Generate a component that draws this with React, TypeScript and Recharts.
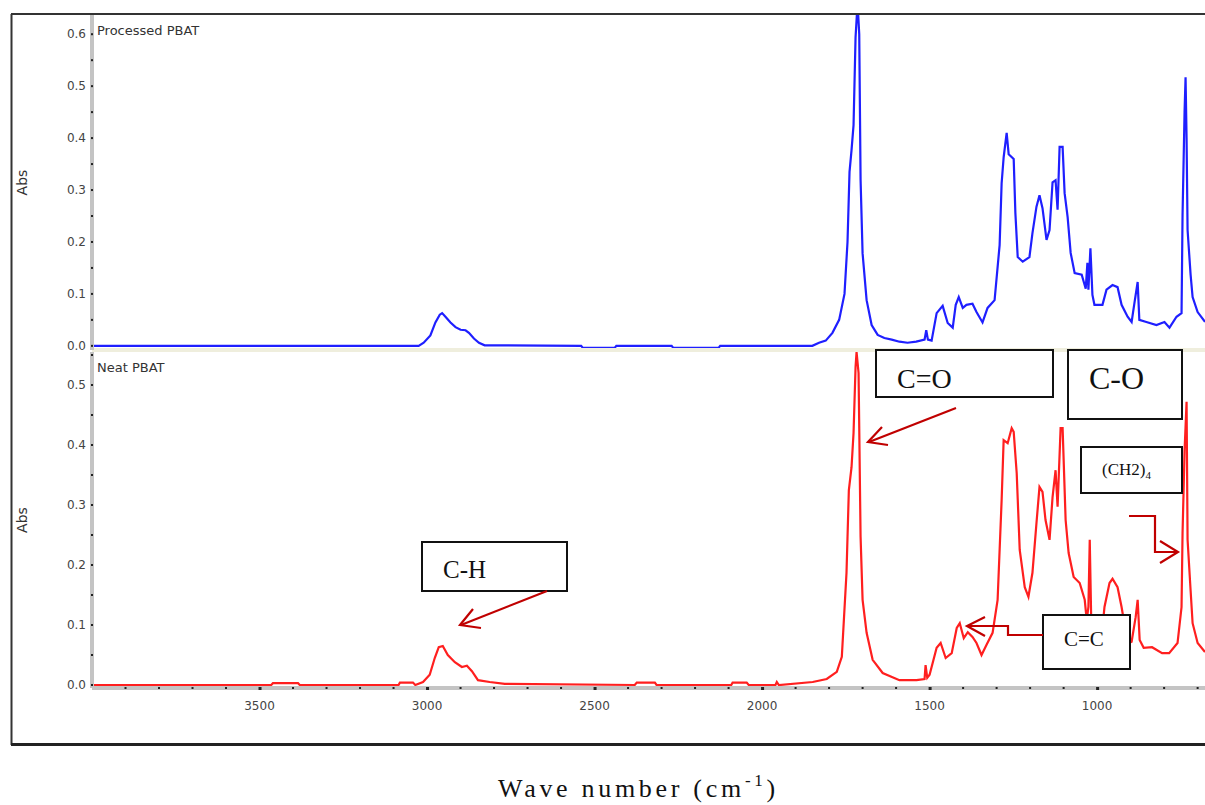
import { LineChart, Line, XAxis, YAxis } from 'recharts'

// Processed PBAT (top, blue) - wavenumber (cm-1) and absorbance
const processedWn = [
  4000, 3300, 3025, 3010, 2990, 2975, 2962, 2955, 2945, 2930, 2915, 2900, 2885, 2875, 2860, 2845, 2828,
  2540, 2535, 2440, 2435, 2270, 2265, 2130, 2125, 1850, 1830, 1810, 1790, 1770, 1754, 1745, 1739, 1733,
  1727, 1721, 1715, 1710, 1706, 1700, 1688, 1673, 1655, 1635, 1613, 1590, 1566, 1540, 1515, 1510, 1505,
  1494, 1479, 1461, 1446, 1431, 1422, 1413, 1401, 1390, 1372, 1360, 1342, 1327, 1306, 1291, 1285, 1279,
  1270, 1264, 1249, 1244, 1237, 1222, 1202, 1193, 1181, 1172, 1163, 1151, 1142, 1133, 1124, 1118, 1112,
  1103, 1097, 1088, 1079, 1067, 1046, 1034, 1029, 1026, 1020, 1014, 1008, 984, 972, 954, 939, 927, 909,
  897, 888, 879, 874, 853, 823, 799, 784, 763, 748, 745, 739, 736, 733, 730, 721, 715, 700, 678,
]
const processedAbs = [
  0, 0, 0, 0.006, 0.02, 0.045, 0.06, 0.063, 0.056, 0.045, 0.036, 0.031, 0.03, 0.025, 0.014, 0.006, 0.001,
  0, -0.004, -0.004, 0, 0, -0.004, -0.004, 0, 0, 0.006, 0.01, 0.025, 0.05, 0.1, 0.2, 0.335, 0.377,
  0.425, 0.594, 0.66, 0.6, 0.32, 0.178, 0.088, 0.04, 0.021, 0.015, 0.012, 0.008, 0.006, 0.008, 0.012, 0.03, 0.012,
  0.01, 0.063, 0.077, 0.044, 0.035, 0.079, 0.094, 0.073, 0.079, 0.081, 0.065, 0.045, 0.073, 0.088, 0.194, 0.313, 0.363,
  0.41, 0.369, 0.36, 0.256, 0.171, 0.162, 0.171, 0.217, 0.268, 0.29, 0.265, 0.204, 0.223, 0.315, 0.319, 0.262, 0.383,
  0.383, 0.294, 0.248, 0.179, 0.14, 0.137, 0.11, 0.16, 0.108, 0.188, 0.098, 0.079, 0.079, 0.108, 0.117, 0.113, 0.079, 0.056,
  0.046, 0.085, 0.123, 0.05, 0.046, 0.04, 0.046, 0.035, 0.056, 0.063, 0.252, 0.45, 0.517, 0.4, 0.223, 0.137, 0.094, 0.065, 0.046,
]

// Neat PBAT (bottom, red)
const neatWn = [
  4000, 3465, 3460, 3385, 3380, 3085, 3081, 3042, 3035, 3012, 2992, 2977, 2965, 2953, 2938, 2917, 2896,
  2881, 2866, 2848, 2813, 2768, 2380, 2374, 2320, 2315, 2092, 2088, 2046, 2040, 1960, 1956, 1950, 1849,
  1807, 1777, 1762, 1748, 1741, 1733, 1727, 1721, 1718, 1712, 1706, 1700, 1688, 1670, 1640, 1590, 1539,
  1515, 1512, 1507, 1500, 1479, 1467, 1452, 1434, 1419, 1410, 1398, 1386, 1372, 1360, 1345, 1330, 1312,
  1297, 1285, 1279, 1267, 1255, 1249, 1240, 1231, 1216, 1205, 1193, 1181, 1172, 1163, 1154, 1142, 1133,
  1124, 1118, 1109, 1103, 1094, 1085, 1070, 1052, 1037, 1031, 1026, 1022, 1017, 1008, 995, 985, 978, 963,
  954, 939, 927, 915, 905, 897, 885, 879, 873, 861, 836, 806, 785, 760, 748, 745, 739, 733, 730, 721,
  715, 700, 678,
]
const neatAbs = [
  0, 0, 0.003, 0.003, 0, 0, 0.004, 0.004, 0, 0.005, 0.017, 0.045, 0.063, 0.065, 0.05, 0.038, 0.03,
  0.032, 0.023, 0.008, 0.005, 0.002, 0, 0.004, 0.004, 0, 0, 0.004, 0.004, 0, 0, 0.005, 0, 0.005,
  0.01, 0.022, 0.047, 0.187, 0.325, 0.363, 0.42, 0.53, 0.555, 0.52, 0.247, 0.142, 0.087, 0.042, 0.02, 0.008, 0.008,
  0.01, 0.033, 0.012, 0.017, 0.062, 0.07, 0.045, 0.053, 0.095, 0.103, 0.078, 0.088, 0.08, 0.07, 0.05, 0.067, 0.087,
  0.142, 0.308, 0.408, 0.403, 0.428, 0.422, 0.353, 0.225, 0.163, 0.147, 0.187, 0.27, 0.33, 0.322, 0.275, 0.242, 0.313,
  0.358, 0.297, 0.428, 0.428, 0.275, 0.22, 0.18, 0.17, 0.142, 0.108, 0.13, 0.242, 0.09, 0.07, 0.065, 0.09, 0.13, 0.17,
  0.177, 0.163, 0.13, 0.09, 0.07, 0.072, 0.113, 0.142, 0.075, 0.062, 0.063, 0.053, 0.053, 0.07, 0.13, 0.253, 0.39, 0.472, 0.242, 0.158,
  0.103, 0.07, 0.055,
]

const xTicks = [
  3900, 3800, 3700, 3600, 3500, 3400, 3300, 3200, 3100, 3000, 2900, 2800, 2700, 2600, 2500, 2400, 2300,
  2200, 2100, 2000, 1900, 1800, 1700, 1600, 1500, 1400, 1300, 1200, 1100, 1000, 900, 800, 700,
]
const xLabels = [3500, 3000, 2500, 2000, 1500, 1000]
const topYTicks = [0, 0.05, 0.1, 0.15, 0.2, 0.25, 0.3, 0.35, 0.4, 0.45, 0.5, 0.55, 0.6]
const bottomYTicks = [0, 0.05, 0.1, 0.15, 0.2, 0.25, 0.3, 0.35, 0.4, 0.45, 0.5, 0.55]

const processed = processedWn.map((w, i) => ({ w, abs: processedAbs[i] }))
const neat = neatWn.map((w, i) => ({ w, abs: neatAbs[i] }))

const TICK_FONT = '"DejaVu Sans", sans-serif'
const SERIF = '"Liberation Serif", "Times New Roman", serif'
const ARROW = '#c00000'

function YTick({ x, y, payload }: any) {
  const v = payload.value
  const major = Math.abs(v * 10 - Math.round(v * 10)) < 1e-6
  return (
    <g>
      <rect x={x - 1} y={y - 1} width={2} height={2} fill="#222" />
      {major && (
        <text x={x - 6} y={y} dy={4} textAnchor="end" fontSize={12} fontFamily={TICK_FONT} fill="#444">
          {v.toFixed(1)}
        </text>
      )}
    </g>
  )
}

function XTick({ x, y, payload }: any) {
  const major = xLabels.includes(payload.value)
  return (
    <g>
      <rect x={x - 1} y={y - 1} width={major ? 3 : 2} height={major ? 3 : 2} fill="#222" />
      {major && (
        <text x={x} y={y + 22} textAnchor="middle" fontSize={12} fontFamily={TICK_FONT} fill="#444">
          {payload.value}
        </text>
      )}
    </g>
  )
}

function AbsLabel(props: any) {
  const { x, y, height } = props.viewBox
  const cx = x + 22
  const cy = y + height / 2
  return (
    <text
      x={cx}
      y={cy}
      transform={`rotate(-90 ${cx} ${cy})`}
      textAnchor="middle"
      dominantBaseline="central"
      fontSize={14}
      fontFamily={TICK_FONT}
      fill="#333"
    >
      Abs
    </text>
  )
}

function Box({ x, y, w, h, children }: any) {
  return (
    <g>
      <rect x={x} y={y} width={w} height={h} fill="#fff" stroke="#111" strokeWidth={2} />
      {children}
    </g>
  )
}

export default function App() {
  return (
    <div style={{ position: 'fixed', left: 0, top: 0, width: 1205, height: 805, overflow: 'hidden', background: '#fff' }}>
      <div style={{ position: 'absolute', left: 0, top: 0 }}>
        <LineChart width={1205} height={352} data={processed} margin={{ top: 15, right: 0, bottom: 0, left: 0 }}>
          <XAxis
            type="number"
            dataKey="w"
            domain={[678, 4000]}
            reversed
            allowDataOverflow
            height={2}
            tick={false}
            tickLine={false}
            axisLine={{ stroke: '#efeedd', strokeWidth: 4 }}
          />
          <YAxis
            type="number"
            domain={[-0.008, 0.637]}
            allowDataOverflow
            width={92}
            ticks={topYTicks}
            interval={0}
            tickSize={0}
            tickMargin={0}
            tickLine={false}
            tick={<YTick />}
            axisLine={{ stroke: '#c4c4c4', strokeWidth: 4 }}
            label={{ value: 'Abs', content: AbsLabel }}
          />
          <Line type="linear" dataKey="abs" stroke="#1f1fff" strokeWidth={2.2} dot={false} isAnimationActive={false} />
        </LineChart>
      </div>
      <div style={{ position: 'absolute', left: 0, top: 352 }}>
        <LineChart width={1205} height={366} data={neat} margin={{ top: 0, right: 0, bottom: 0, left: 0 }}>
          <XAxis
            type="number"
            dataKey="w"
            domain={[678, 4000]}
            reversed
            allowDataOverflow
            height={30}
            ticks={xTicks}
            interval={0}
            tickSize={0}
            tickMargin={0}
            tickLine={false}
            tick={<XTick />}
            axisLine={{ stroke: '#c4c4c4', strokeWidth: 4 }}
          />
          <YAxis
            type="number"
            domain={[-0.005, 0.555]}
            allowDataOverflow
            width={92}
            ticks={bottomYTicks}
            interval={0}
            tickSize={0}
            tickMargin={0}
            tickLine={false}
            tick={<YTick />}
            axisLine={{ stroke: '#c4c4c4', strokeWidth: 4 }}
            label={{ value: 'Abs', content: AbsLabel }}
          />
          <Line type="linear" dataKey="abs" stroke="#ff1f1f" strokeWidth={2.2} dot={false} isAnimationActive={false} />
        </LineChart>
      </div>

      <svg width={1205} height={805} style={{ position: 'absolute', left: 0, top: 0, pointerEvents: 'none' }}>
        {/* frame */}
        <line x1={11.5} y1={14} x2={11.5} y2={745} stroke="#333" strokeWidth={2} />
        <line x1={11} y1={14} x2={1205} y2={14} stroke="#333" strokeWidth={2} />
        <line x1={11} y1={744.5} x2={1205} y2={744.5} stroke="#222" strokeWidth={3} />

        <text x={97} y={35} fontSize={13} fontFamily={TICK_FONT} fill="#333">Processed PBAT</text>
        <text x={97} y={372} fontSize={13} fontFamily={TICK_FONT} fill="#333">Neat PBAT</text>

        {/* C-H */}
        <Box x={422} y={542} w={145} h={49}>
          <text x={443} y={578} fontSize={25} fontFamily={SERIF} fill="#111">C-H</text>
        </Box>
        <line x1={547} y1={591} x2={461} y2={625} stroke={ARROW} strokeWidth={2.2} />
        <polyline points="473,609 460,625 481,628" fill="none" stroke={ARROW} strokeWidth={2.2} />

        {/* C=O */}
        <Box x={876} y={350} w={177} h={47}>
          <text x={897} y={388} fontSize={28} fontFamily={SERIF} fill="#111">C=O</text>
        </Box>
        <line x1={956} y1={408} x2={869} y2={442} stroke={ARROW} strokeWidth={2.2} />
        <polyline points="882,427 868,442 888,445" fill="none" stroke={ARROW} strokeWidth={2.2} />

        {/* C-O */}
        <Box x={1068} y={350} w={114} h={69}>
          <text x={1089} y={389} fontSize={32} fontFamily={SERIF} fill="#111">C-O</text>
        </Box>

        {/* (CH2)4 */}
        <Box x={1081} y={447} w={101} h={46}>
          <text x={1102} y={475} fontSize={17} fontFamily={SERIF} fill="#111">
            (CH2)<tspan fontSize={11} dy={4}>4</tspan>
          </text>
        </Box>
        <polyline points="1129,516 1155,516 1155,552 1177,552" fill="none" stroke={ARROW} strokeWidth={2.2} />
        <polyline points="1160,541 1178,552 1160,563" fill="none" stroke={ARROW} strokeWidth={2.2} />

        {/* C=C */}
        <Box x={1043} y={615} w={87} h={54}>
          <text x={1064} y={646} fontSize={21} fontFamily={SERIF} fill="#111">C=C</text>
        </Box>
        <polyline points="1043,635 1008,635 1008,626 968,626" fill="none" stroke={ARROW} strokeWidth={2.2} />
        <polyline points="985,617 967,626 985,636" fill="none" stroke={ARROW} strokeWidth={2.2} />

        {/* x axis title */}
        <text x={498} y={797} fontSize={26} letterSpacing={3.7} fontFamily={SERIF} fill="#111">
          Wave number (cm<tspan fontSize={17} dy={-11}>-1</tspan>
          <tspan dy={11}>)</tspan>
        </text>
      </svg>
    </div>
  )
}
